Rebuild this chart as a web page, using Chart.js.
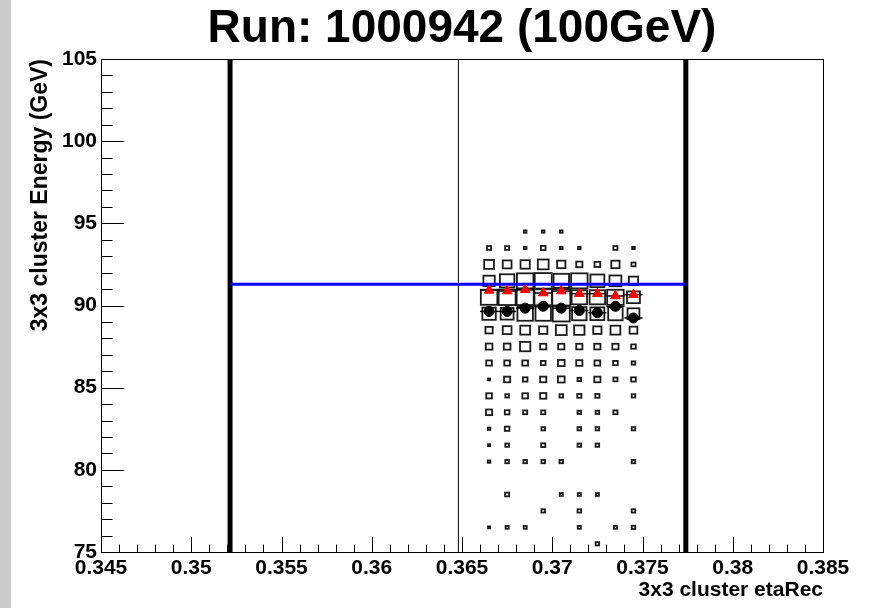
<!DOCTYPE html>
<html>
<head>
<meta charset="utf-8">
<script src="https://cdn.jsdelivr.net/npm/chart.js@4.4.1/dist/chart.umd.min.js"></script>
<style>
html,body{margin:0;padding:0;background:#fff}
</style>
</head>
<body>
<canvas id="c" width="870" height="608"></canvas>
<script>
// bins of the 2D histogram: etaRec (0.001 wide) x energy (1 GeV high)
const etaCenters = [0.3665,0.3675,0.3685,0.3695,0.3705,0.3715,0.3725,0.3735,0.3745]
const energyCenters = [94.5,93.5,92.5,91.5,90.5,89.5,88.5,87.5,86.5,85.5,84.5,83.5,82.5,81.5,80.5,79.5,78.5,77.5,76.5,75.5]
const etaBinWidth = 0.001
const energyBinWidth = 1

// entries per bin, one row per energy bin (top to bottom)
const counts = [
[0,0,5,5,5,0,0,0,0],
[8,8,5,9,5,5,0,8,5],
[19,17,18,21,16,12,11,16,8],
[22,28,32,33,30,32,27,23,18],
[32,33,33,34,35,30,30,32,25],
[26,25,30,30,33,28,27,28,23],
[14,17,19,16,21,20,16,19,15],
[13,13,20,12,12,12,12,12,9],
[11,11,11,9,13,12,11,9,7],
[4,12,9,12,13,7,12,8,9],
[11,7,11,12,7,8,8,0,7],
[12,9,8,8,0,7,7,8,0],
[5,9,0,7,0,7,7,0,7],
[4,7,0,8,0,7,7,0,0],
[5,7,7,7,7,0,0,0,7],
[0,0,0,0,0,0,0,0,0],
[0,8,0,0,6,6,6,0,0],
[0,0,0,7,0,7,0,0,7],
[4,6,6,0,0,6,0,6,7],
[0,0,0,0,0,0,7,0,0]
]

// mean energy per eta bin (two estimators)
const meanTriangle = [90.92,90.88,90.96,90.76,90.88,90.72,90.72,90.58,90.66]
const meanCircle = [89.64,89.64,89.84,89.95,89.84,89.70,89.56,89.95,89.24]

// cut lines
const etaCutLow = 0.35215
const etaCutHigh = 0.3774
const etaMid = 0.3648
const energyCut = 91.29

// axes
const xTicks = [0.345,0.35,0.355,0.36,0.365,0.37,0.375,0.38,0.385]
const yTicks = [75,80,85,90,95,100,105]
const xMinorDiv = 5
const yMinorDiv = 5

const FONT = "'Liberation Sans', Arial, Helvetica, sans-serif"

const maxCount = Math.max(...counts.flat())

const rootPlugin = {
  id: 'rootStyle',
  beforeDraw(chart) {
    const ctx = chart.ctx
    ctx.save()
    ctx.fillStyle = '#ffffff'
    ctx.fillRect(0, 0, chart.width, chart.height)
    ctx.fillStyle = '#cbcbcb'
    ctx.fillRect(0, 0, 11, chart.height)
    ctx.restore()
  },
  beforeDatasetsDraw(chart) {
    const ctx = chart.ctx
    const xs = chart.scales.x, ys = chart.scales.y
    ctx.save()
    // boxes
    ctx.strokeStyle = '#1a1a1a'
    ctx.lineWidth = 1.8
    counts.forEach((row, r) => {
      row.forEach((n, c) => {
        if (!n) return
        const f = n / maxCount
        const x0 = xs.getPixelForValue(etaCenters[c] - f * etaBinWidth / 2)
        const x1 = xs.getPixelForValue(etaCenters[c] + f * etaBinWidth / 2)
        const y0 = ys.getPixelForValue(energyCenters[r] + f * energyBinWidth / 2)
        const y1 = ys.getPixelForValue(energyCenters[r] - f * energyBinWidth / 2)
        ctx.strokeRect(x0, y0, x1 - x0, y1 - y0)
      })
    })
    // horizontal error bars of the means
    ctx.strokeStyle = '#000'
    ctx.lineWidth = 1.5
    ;[meanTriangle, meanCircle].forEach(arr => {
      arr.forEach((v, i) => {
        const y = ys.getPixelForValue(v)
        ctx.beginPath()
        ctx.moveTo(xs.getPixelForValue(etaCenters[i] - etaBinWidth / 2), y)
        ctx.lineTo(xs.getPixelForValue(etaCenters[i] + etaBinWidth / 2), y)
        ctx.stroke()
      })
    })
    ctx.restore()
  },
  afterDraw(chart) {
    const ctx = chart.ctx
    const {left, right, top, bottom} = chart.chartArea
    const xs = chart.scales.x, ys = chart.scales.y
    ctx.save()
    ctx.strokeStyle = '#000'
    ctx.lineWidth = 1
    ctx.strokeRect(Math.round(left) + 0.5, Math.round(top) + 0.5, Math.round(right - left), Math.round(bottom - top))
    ctx.beginPath()
    // x ticks, pointing up into the frame
    for (let i = 0; i < xTicks.length; i++) {
      const px = Math.round(xs.getPixelForValue(xTicks[i])) + 0.5
      ctx.moveTo(px, bottom); ctx.lineTo(px, bottom - 15)
      if (i < xTicks.length - 1) {
        const step = (xTicks[i + 1] - xTicks[i]) / xMinorDiv
        for (let k = 1; k < xMinorDiv; k++) {
          const pm = Math.round(xs.getPixelForValue(xTicks[i] + k * step)) + 0.5
          ctx.moveTo(pm, bottom); ctx.lineTo(pm, bottom - 7.5)
        }
      }
    }
    // y ticks, pointing right into the frame
    for (let i = 0; i < yTicks.length; i++) {
      const py = Math.round(ys.getPixelForValue(yTicks[i])) + 0.5
      ctx.moveTo(left, py); ctx.lineTo(left + 23, py)
      if (i < yTicks.length - 1) {
        const step = (yTicks[i + 1] - yTicks[i]) / yMinorDiv
        for (let k = 1; k < yMinorDiv; k++) {
          const pm = Math.round(ys.getPixelForValue(yTicks[i] + k * step)) + 0.5
          ctx.moveTo(left, pm); ctx.lineTo(left + 11.5, pm)
        }
      }
    }
    ctx.stroke()
    ctx.restore()
  }
}

const vline = (x, w) => ({
  data: [{x: x, y: 75}, {x: x, y: 105}],
  showLine: true, borderColor: '#000', borderWidth: w, pointRadius: 0, order: 5
})

new Chart(document.getElementById('c'), {
  type: 'scatter',
  data: {
    datasets: [
      {
        data: meanCircle.map((v, i) => ({x: etaCenters[i], y: v})),
        pointStyle: 'circle', pointRadius: 5,
        backgroundColor: '#000', borderColor: '#000', borderWidth: 1, order: 1
      },
      {
        data: meanTriangle.map((v, i) => ({x: etaCenters[i], y: v})),
        pointStyle: 'triangle', pointRadius: 5.6,
        backgroundColor: '#ff0000', borderColor: '#ff0000', borderWidth: 1, order: 2
      },
      {
        data: [{x: etaCutLow, y: energyCut}, {x: etaCutHigh, y: energyCut}],
        showLine: true, borderColor: '#0000ff', borderWidth: 3, pointRadius: 0, order: 3
      },
      vline(etaMid, 1),
      vline(etaCutLow, 5),
      vline(etaCutHigh, 5)
    ]
  },
  options: {
    responsive: false,
    animation: false,
    events: [],
    devicePixelRatio: 1,
    layout: {padding: {left: 0, right: 47, top: 0, bottom: 0}},
    plugins: {
      legend: {display: false},
      tooltip: {enabled: false},
      title: {
        display: true,
        text: 'Run: 1000942 (100GeV)',
        fullSize: false,
        color: '#000',
        font: {family: FONT, size: 46, weight: 'bold', lineHeight: 1},
        padding: {top: 6, bottom: 7}
      }
    },
    scales: {
      x: {
        type: 'linear', min: 0.345, max: 0.385,
        grid: {display: false, drawTicks: false}, border: {display: false},
        afterBuildTicks: s => { s.ticks = xTicks.map(v => ({value: v})) },
        afterFit: s => { s.height = 56; s.paddingLeft = 0; s.paddingRight = 0 },
        ticks: {
          autoSkip: false, maxRotation: 0, padding: 4, color: '#000',
          font: {family: FONT, size: 21, weight: 'bold'},
          callback: v => String(Number(v.toFixed(3)))
        },
        title: {
          display: true, text: '3x3 cluster etaRec', align: 'end', color: '#000',
          font: {family: FONT, size: 21, weight: 'bold'},
          padding: {top: 0, bottom: 5}
        }
      },
      y: {
        type: 'linear', min: 75, max: 105,
        grid: {display: false, drawTicks: false}, border: {display: false},
        afterBuildTicks: s => { s.ticks = yTicks.map(v => ({value: v})) },
        afterFit: s => { s.width = 101; s.paddingTop = 0; s.paddingBottom = 0 },
        ticks: {
          autoSkip: false, padding: 4, color: '#000',
          font: {family: FONT, size: 21, weight: 'bold'}
        },
        title: {
          display: true, text: '3x3 cluster Energy (GeV)', align: 'end', color: '#000',
          font: {family: FONT, size: 23, weight: 'bold'},
          padding: {top: 27, bottom: 0}
        }
      }
    }
  },
  plugins: [rootPlugin]
})
</script>
</body>
</html>
